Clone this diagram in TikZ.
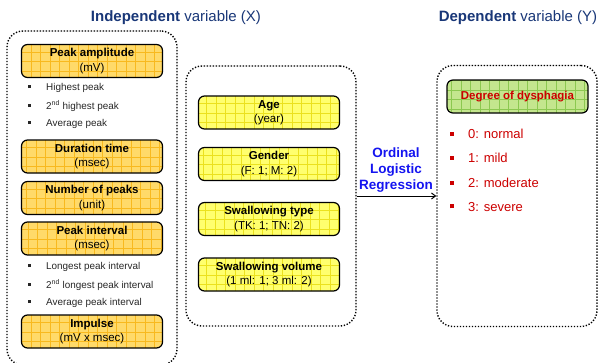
\documentclass[tikz,border=0pt]{standalone}
\usepackage{fontspec}
\setmainfont{Liberation Sans}
\usetikzlibrary{arrows.meta}
\definecolor{navy}{RGB}{25,55,120}
\definecolor{goldfill}{RGB}{255,218,105}
\definecolor{goldgrid}{RGB}{248,185,30}
\definecolor{yelfill}{RGB}{255,255,110}
\definecolor{yelgrid}{RGB}{235,225,30}
\definecolor{grnfill}{RGB}{196,230,142}
\definecolor{grngrid}{RGB}{140,200,80}
\definecolor{darkred}{RGB}{204,0,0}
\definecolor{regblue}{RGB}{20,20,240}
\begin{document}
\begin{tikzpicture}[x=1pt,y=-1pt,
  region/.style={draw=black, line width=1.4pt, dash pattern=on 1.3pt off 1.7pt,
    rounded corners=16pt, inner sep=0pt},
  varbox/.style={draw=black, line width=1.2pt, rounded corners=6pt, inner sep=0pt,
    minimum width=141pt, minimum height=33pt, align=center,
    font=\fontsize{11.5}{14.5}\selectfont, fill=#1fill,
    path picture={\draw[#1grid, line width=0.5pt, step=9.5pt]
      (path picture bounding box.south west) grid (path picture bounding box.north east);}},
  subitem/.style={anchor=west, inner sep=0pt, font=\fontsize{9.9}{12}\selectfont, text=black!85},
  depitem/.style={anchor=west, inner sep=0pt, font=\fontsize{13}{15}\selectfont, text=darkred},
  title/.style={font=\fontsize{15}{18}\selectfont, text=navy, inner sep=0pt}
]
\useasboundingbox (0,0) rectangle (600,362);
\clip (0,0) rectangle (600,362);

% titles
\node[title] (tindep) at (176,18) {\textbf{Independent} variable (X)};
\node[title] (tdep) at (518,18) {\textbf{Dependent} variable (Y)};

% regions
\node[region, minimum width=170pt, minimum height=334pt] (indep) at (92,198) {};
\node[region, minimum width=170pt, minimum height=260pt] (mid) at (271,196) {};
\node[region, minimum width=160pt, minimum height=261pt] (dep) at (517,196) {};

% left column boxes
\node[varbox=gold] (pa) at (92,61) {\textbf{Peak amplitude}\\(mV)};
\node[subitem] (pa1) at (28,88) {\makebox[18pt][l]{\raisebox{2.5pt}{\rule{3pt}{3pt}}}Highest peak};
\node[subitem] (pa2) at (28,106) {\makebox[18pt][l]{\raisebox{2.5pt}{\rule{3pt}{3pt}}}2\textsuperscript{nd} highest peak};
\node[subitem] (pa3) at (28,124) {\makebox[18pt][l]{\raisebox{2.5pt}{\rule{3pt}{3pt}}}Average peak};
\node[varbox=gold] (dt) at (92,156.5) {\textbf{Duration time}\\(msec)};
\node[varbox=gold] (np) at (92,198) {\textbf{Number of peaks}\\(unit)};
\node[varbox=gold] (pi) at (92,238.5) {\textbf{Peak interval}\\(msec)};
\node[subitem] (pi1) at (28,267) {\makebox[18pt][l]{\raisebox{2.5pt}{\rule{3pt}{3pt}}}Longest peak interval};
\node[subitem] (pi2) at (28,285) {\makebox[18pt][l]{\raisebox{2.5pt}{\rule{3pt}{3pt}}}2\textsuperscript{nd} longest peak interval};
\node[subitem] (pi3) at (28,303) {\makebox[18pt][l]{\raisebox{2.5pt}{\rule{3pt}{3pt}}}Average peak interval};
\node[varbox=gold] (im) at (92,331.5) {\textbf{Impulse}\\(mV x msec)};

% middle column boxes
\node[varbox=yel] (age) at (269,112.5) {\textbf{Age}\\(year)};
\node[varbox=yel] (gen) at (269,164) {\textbf{Gender}\\(F: 1; M: 2)};
\node[varbox=yel] (swt) at (269,219) {\textbf{Swallowing type}\\(TK: 1; TN: 2)};
\node[varbox=yel] (swv) at (269,274.5) {\textbf{Swallowing volume}\\(1 ml: 1; 3 ml: 2)};

% dependent
\node[varbox=grn, text=darkred] (dd) at (517.5,96.5) {\textbf{Degree of dysphagia}};
\node[depitem] (d0) at (450,134) {\makebox[18pt][l]{\raisebox{3pt}{\rule{4pt}{4pt}}}0: normal};
\node[depitem] (d1) at (450,158) {\makebox[18pt][l]{\raisebox{3pt}{\rule{4pt}{4pt}}}1: mild};
\node[depitem] (d2) at (450,183) {\makebox[18pt][l]{\raisebox{3pt}{\rule{4pt}{4pt}}}2: moderate};
\node[depitem] (d3) at (450,207) {\makebox[18pt][l]{\raisebox{3pt}{\rule{4pt}{4pt}}}3: severe};

% connector
\draw[line width=1pt, -{Straight Barb[length=4pt,width=6pt]}] (mid.east) -- (dep.west);
\node[font=\fontsize{13.5}{16}\selectfont\bfseries, text=regblue, align=center, inner sep=0pt]
  (olr) at (396,170) {Ordinal\\Logistic\\Regression};
\end{tikzpicture}
\end{document}
